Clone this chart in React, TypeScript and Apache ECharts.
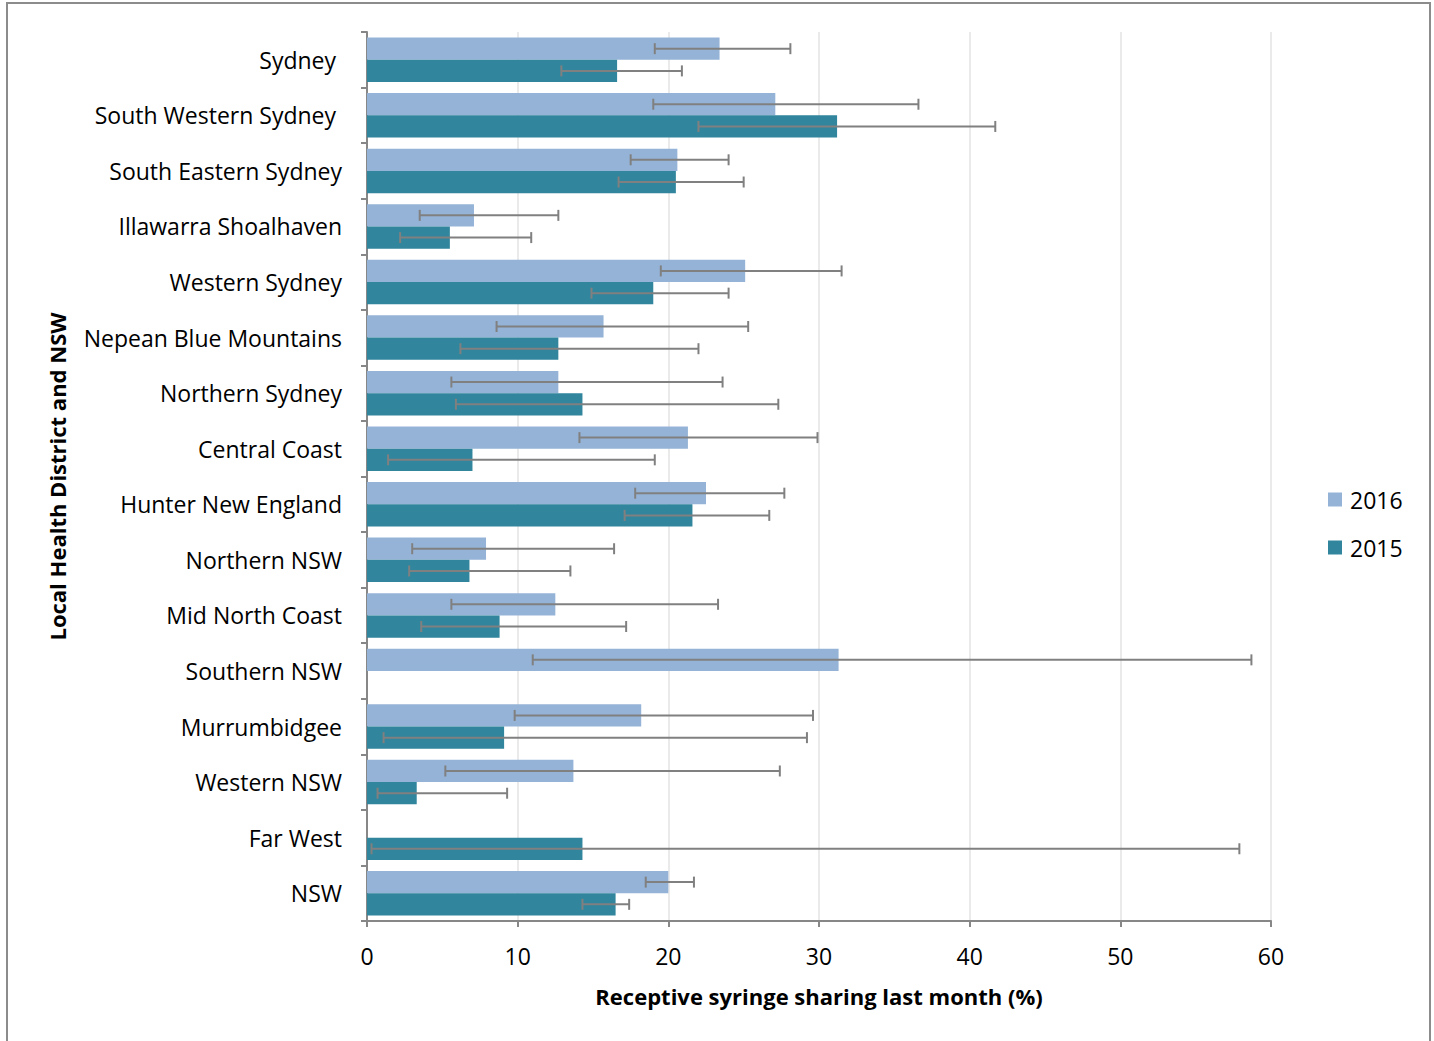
import React, { useEffect, useRef } from "react";
import * as echarts from "echarts";

const categories = [
  "Sydney ",
  "South Western Sydney ",
  "South Eastern Sydney",
  "Illawarra Shoalhaven",
  "Western Sydney",
  "Nepean Blue Mountains",
  "Northern Sydney",
  "Central Coast",
  "Hunter New England",
  "Northern NSW",
  "Mid North Coast",
  "Southern NSW",
  "Murrumbidgee",
  "Western NSW",
  "Far West",
  "NSW",
];

const values2016: (number | null)[] = [23.4, 27.1, 20.6, 7.1, 25.1, 15.7, 12.7, 21.3, 22.5, 7.9, 12.5, 31.3, 18.2, 13.7, null, 20.0];
const low2016: (number | null)[] = [19.1, 19.0, 17.5, 3.5, 19.5, 8.6, 5.6, 14.1, 17.8, 3.0, 5.6, 11.0, 9.8, 5.2, null, 18.5];
const high2016: (number | null)[] = [28.1, 36.6, 24.0, 12.7, 31.5, 25.3, 23.6, 29.9, 27.7, 16.4, 23.3, 58.7, 29.6, 27.4, null, 21.7];

const values2015: (number | null)[] = [16.6, 31.2, 20.5, 5.5, 19.0, 12.7, 14.3, 7.0, 21.6, 6.8, 8.8, null, 9.1, 3.3, 14.3, 16.5];
const low2015: (number | null)[] = [12.9, 22.0, 16.7, 2.2, 14.9, 6.2, 5.9, 1.4, 17.1, 2.8, 3.6, null, 1.1, 0.7, 0.3, 14.3];
const high2015: (number | null)[] = [20.9, 41.7, 25.0, 10.9, 24.0, 22.0, 27.3, 19.1, 26.7, 13.5, 17.2, null, 29.2, 9.3, 57.9, 17.4];

const xTicks = [0, 10, 20, 30, 40, 50, 60];

const FONT = "Open Sans";
const C2016 = "#95B3D7";
const C2015 = "#31859C";
const ERR = "#808080";

function errData(lo: (number | null)[], hi: (number | null)[]) {
  const out: number[][] = [];
  lo.forEach((l, i) => {
    const h = hi[i];
    if (l != null && h != null) out.push([l, i, h]);
  });
  return out;
}

function makeRender(side: number) {
  return (params: any, api: any) => {
    const lo = api.value(0);
    const cat = api.value(1);
    const hi = api.value(2);
    const band = api.size([0, 1])[1];
    const barW = (band * 0.8) / 2;
    const p1 = api.coord([lo, cat]);
    const p2 = api.coord([hi, cat]);
    const y = p1[1] + side * (barW / 2);
    const cap = 5.5;
    const style = { stroke: ERR, lineWidth: 2 };
    return {
      type: "group",
      children: [
        { type: "line", shape: { x1: p1[0], y1: y, x2: p2[0], y2: y }, style },
        { type: "line", shape: { x1: p1[0], y1: y - cap, x2: p1[0], y2: y + cap }, style },
        { type: "line", shape: { x1: p2[0], y1: y - cap, x2: p2[0], y2: y + cap }, style },
      ],
    };
  };
}

export default function App() {
  const ref = useRef<HTMLDivElement>(null);
  useEffect(() => {
    if (!ref.current) return;
    const chart = echarts.init(ref.current, undefined, { renderer: "svg" });
    chart.setOption({
      animation: false,
      backgroundColor: "#ffffff",
      textStyle: { fontFamily: FONT },
      grid: { left: 367, right: 163, top: 32, bottom: 120, containLabel: false },
      legend: {
        orient: "vertical",
        left: 1323,
        top: 483,
        itemWidth: 14,
        itemHeight: 14,
        itemGap: 25,
        icon: "rect",
        data: ["2016", "2015"],
        textStyle: { fontFamily: FONT, fontSize: 23, color: "#000", padding: [0, 0, 0, 3] },
      },
      xAxis: {
        type: "value",
        min: 0,
        max: 60,
        interval: 10,
        name: "Receptive syringe sharing last month (%)",
        nameLocation: "middle",
        nameGap: 64,
        nameTextStyle: { fontFamily: FONT, fontSize: 22, fontWeight: "bold", color: "#000" },
        axisLine: { show: true, lineStyle: { color: "#878787", width: 2 } },
        axisTick: { show: true, length: 6, lineStyle: { color: "#878787", width: 2 } },
        axisLabel: {
          fontFamily: FONT,
          fontSize: 23,
          color: "#000",
          margin: 23,
          formatter: (v: number) => (xTicks.includes(v) ? String(v) : ""),
        },
        splitLine: { show: true, lineStyle: { color: "#EAEAEA", width: 2 } },
      },
      yAxis: {
        type: "category",
        inverse: true,
        data: categories,
        name: "Local Health District and NSW",
        nameLocation: "middle",
        nameGap: 299,
        nameRotate: 90,
        nameTextStyle: { fontFamily: FONT, fontSize: 22, fontWeight: "bold", color: "#000" },
        axisLine: { show: true, lineStyle: { color: "#878787", width: 2 } },
        axisTick: { show: true, length: 6, lineStyle: { color: "#878787", width: 2 } },
        axisLabel: { fontFamily: FONT, fontSize: 23, color: "#000", margin: 25 },
      },
      series: [
        {
          name: "2016",
          type: "bar",
          data: values2016,
          itemStyle: { color: C2016 },
          barGap: "0%",
          barCategoryGap: "20%",
        },
        {
          name: "2015",
          type: "bar",
          data: values2015,
          itemStyle: { color: C2015 },
          barGap: "0%",
          barCategoryGap: "20%",
        },
        {
          type: "custom",
          name: "err2016",
          renderItem: makeRender(-1),
          encode: { x: [0, 2], y: 1 },
          data: errData(low2016, high2016),
          z: 5,
        },
        {
          type: "custom",
          name: "err2015",
          renderItem: makeRender(1),
          encode: { x: [0, 2], y: 1 },
          data: errData(low2015, high2015),
          z: 5,
        },
      ],
      graphic: [
        {
          type: "rect",
          shape: { x: 7, y: 3, width: 1423, height: 1100 },
          style: { fill: "none", stroke: "#8c8c8c", lineWidth: 2 },
          silent: true,
        },
      ],
    });
    return () => chart.dispose();
  }, []);
  return (
    <div
      ref={ref}
      style={{ position: "fixed", left: 0, top: 0, width: 1434, height: 1041 }}
    />
  );
}
